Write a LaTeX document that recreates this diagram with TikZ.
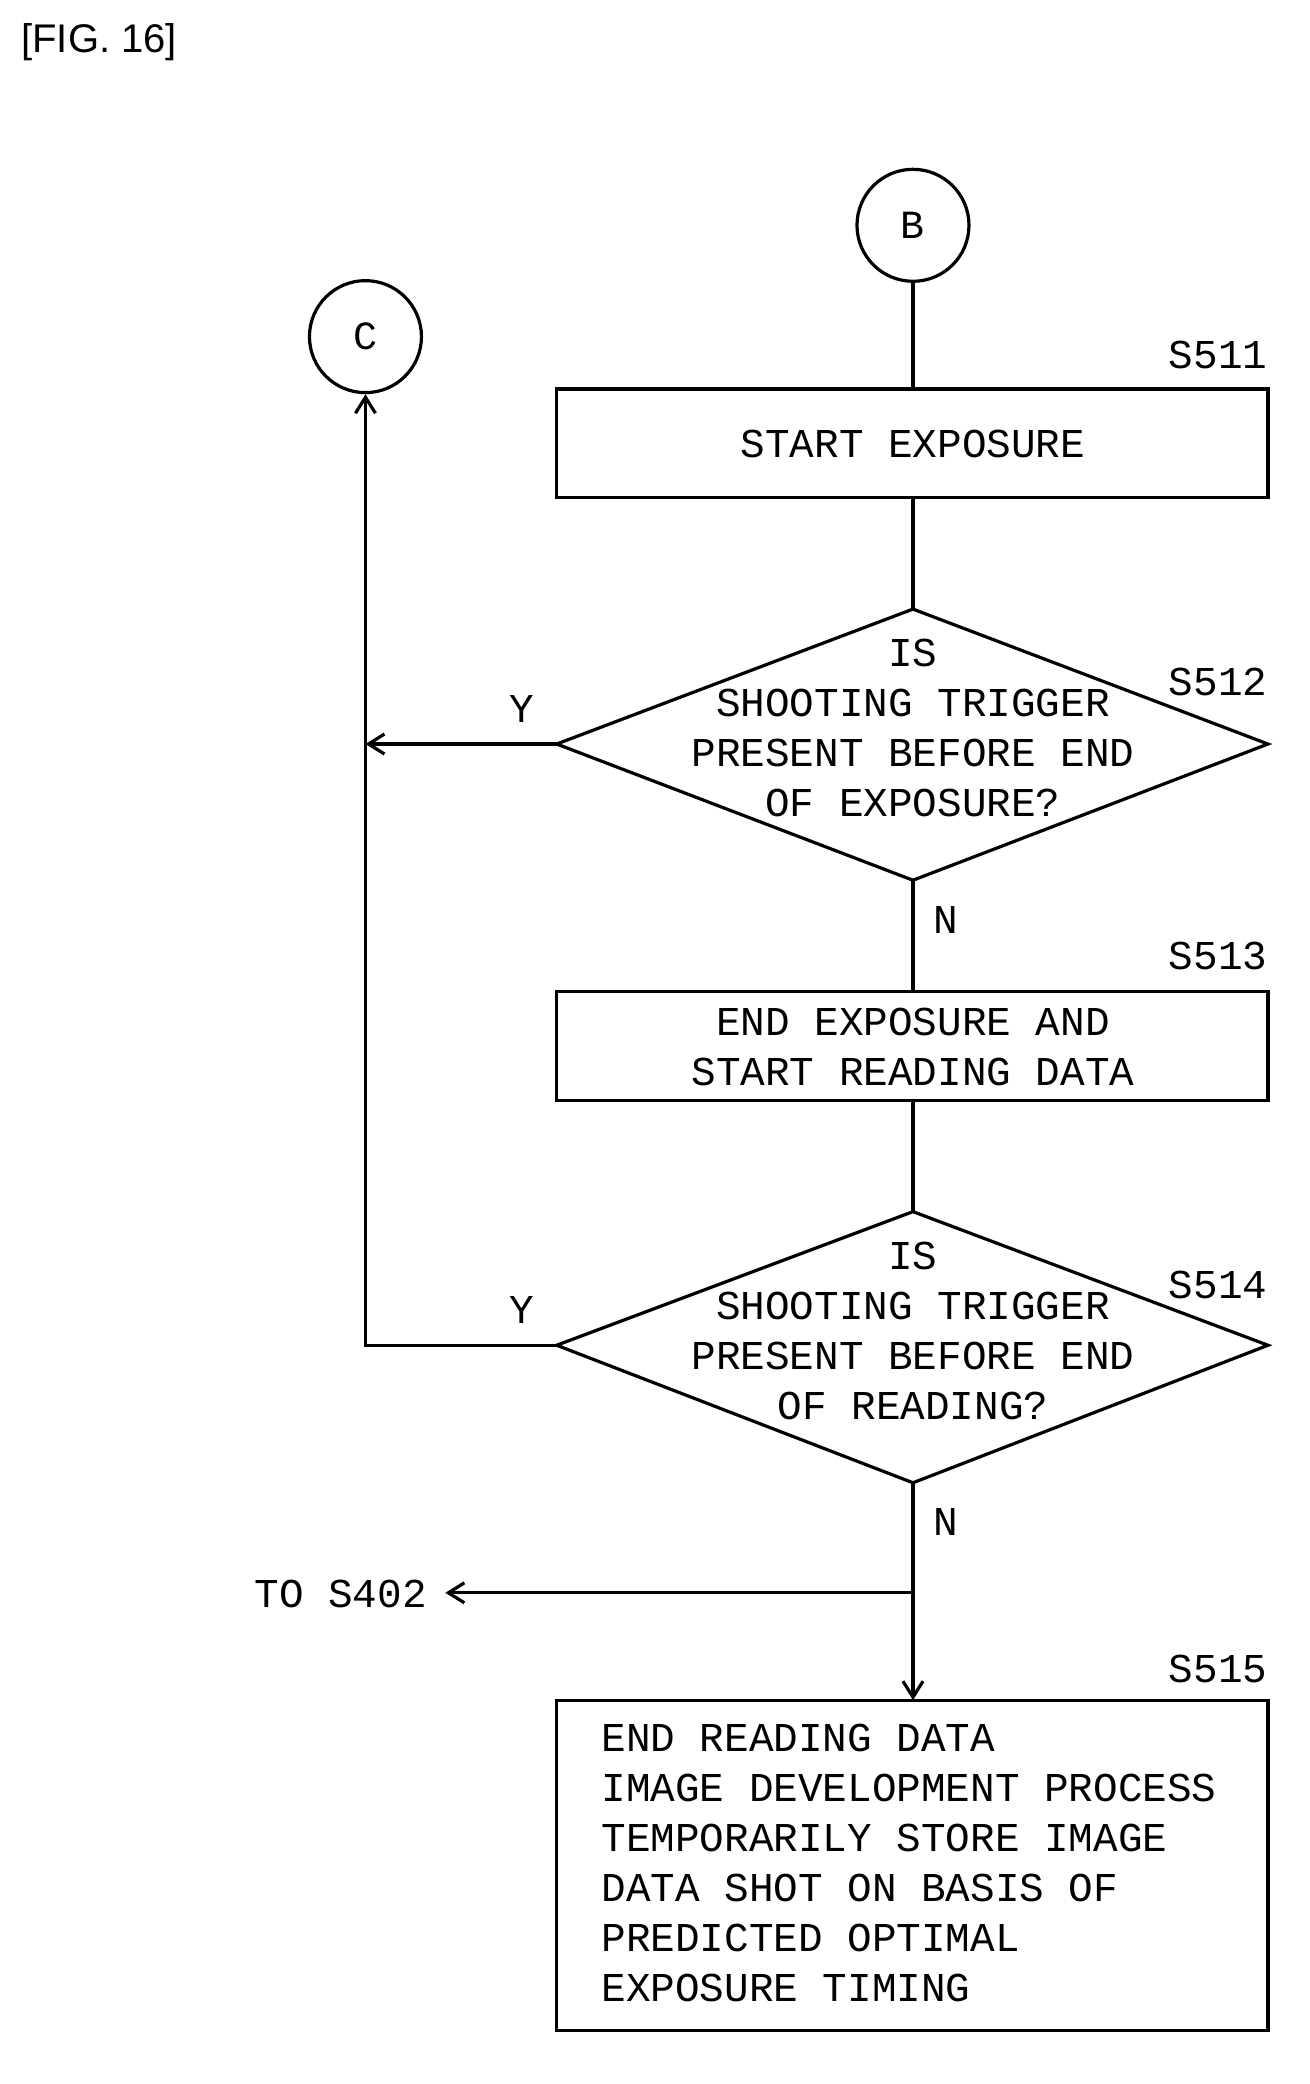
\documentclass[tikz,border=0pt]{standalone}
\usepackage{fontspec}
\setmainfont{Liberation Mono}
\newfontfamily\figfont{Liberation Sans}
\usetikzlibrary{arrows.meta}
\begin{document}
\begin{tikzpicture}[x=0.655pt,y=-0.655pt,line width=1.6pt,
 txt/.style={font=\fontsize{20.5}{25}\selectfont,inner sep=0pt,align=center},
 lbl/.style={font=\fontsize{20.5}{25}\selectfont,inner sep=0pt},
 circ/.style={draw,circle,minimum size=56pt,inner sep=0pt,font=\fontsize{20}{25}\selectfont},
 arr/.style={-{Straight Barb[length=8pt,width=10pt]}}]
\useasboundingbox (0,0) rectangle (1000,1591);
\node[font=\figfont\fontsize{20}{24}\selectfont,anchor=west] (fig) at (10,32) {[FIG. 16]};
\node[circ] (B) at (697,172) {B};
\node[circ] (C) at (279,257) {C};
\draw (425,297) rectangle (968,380);
\node[txt] (s511) at (697,339) {START EXPOSURE};
\node[lbl] at (930,271) {S511};
\coordinate (s511t) at (697,297); \coordinate (s511b) at (697,380);
% diamond 1
\coordinate (d1t) at (697,465); \coordinate (d1b) at (697,672);
\coordinate (d1l) at (425,568); \coordinate (d1r) at (968,568);
\draw (d1t)--(d1r)--(d1b)--(d1l)--cycle;
\node[txt] (s512) at (697,556) {IS\\SHOOTING TRIGGER\\PRESENT BEFORE END\\OF EXPOSURE?};
\node[lbl] at (930,521) {S512};
\node[lbl] at (398,541) {Y};
\node[lbl] at (722,702) {N};
\draw (425,757) rectangle (968,840);
\node[txt] (s513) at (697,799) {END EXPOSURE AND\\START READING DATA};
\node[lbl] at (930,730) {S513};
\coordinate (s513t) at (697,757); \coordinate (s513b) at (697,840);
% diamond 2
\coordinate (d2t) at (697,925); \coordinate (d2b) at (697,1132);
\coordinate (d2l) at (425,1027); \coordinate (d2r) at (968,1027);
\draw (d2t)--(d2r)--(d2b)--(d2l)--cycle;
\node[txt] (s514) at (697,1016) {IS\\SHOOTING TRIGGER\\PRESENT BEFORE END\\OF READING?};
\node[lbl] at (930,981) {S514};
\node[lbl] at (398,1000) {Y};
\node[lbl] at (722,1162) {N};
\coordinate (cx) at (279,1027); \coordinate (cy) at (279,568);
\coordinate (br) at (697,1216); \coordinate (to) at (340,1216);
\node[lbl,anchor=east] (tos) at (327,1217) {TO S402};
\draw (425,1298) rectangle (968,1550);
\coordinate (s515t) at (697,1298);
\node[lbl] at (930,1274) {S515};
\node[txt,align=left,anchor=north west,font=\fontsize{20.5}{25}\selectfont] (s515) at (458,1315) {END READING DATA\\IMAGE DEVELOPMENT PROCESS\\TEMPORARILY STORE IMAGE\\DATA SHOT ON BASIS OF\\PREDICTED OPTIMAL\\EXPOSURE TIMING};
% connectors
\draw (B.south)--(s511t);
\draw (s511b)--(d1t);
\draw (d1b)--(s513t);
\draw (s513b)--(d2t);
\draw[arr] (d1l)--(cy);
\draw[arr] (d2l)--(cx)--(C.south);
\draw[arr] (d2b)--(s515t);
\draw[arr] (br)--(to);
\end{tikzpicture}
\end{document}
